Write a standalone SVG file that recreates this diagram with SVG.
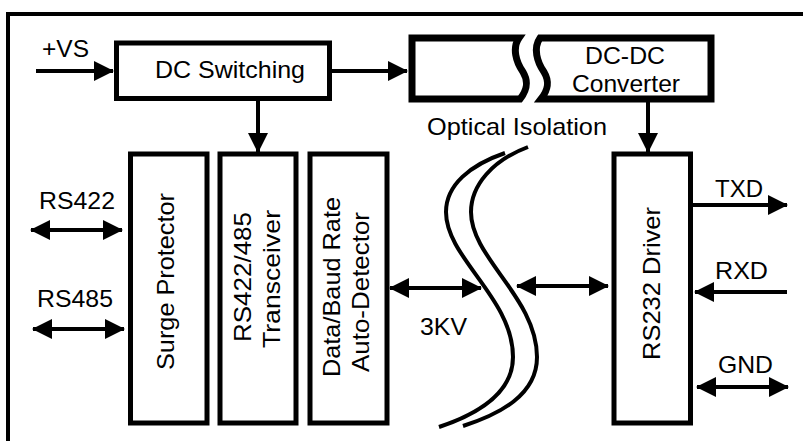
<svg xmlns="http://www.w3.org/2000/svg" width="803" height="441" viewBox="0 0 803 441">
<style>
  text { font-family: "Liberation Sans", Arial, sans-serif; font-size: 24px; fill: #000; }
  .box { fill: #fff; stroke: #000; stroke-width: 5; }
  .opt { fill: #fff; stroke: #000; stroke-width: 7; stroke-linejoin: miter; }
  .wire { fill: none; stroke: #000; stroke-width: 4; }
  .iso { fill: none; stroke: #000; stroke-width: 4; stroke-linecap: butt; }
  .frame { fill: none; stroke: #000; stroke-width: 4; }
</style>
<defs>
  <marker id="ah" viewBox="0 0 20 20" markerUnits="userSpaceOnUse" markerWidth="20" markerHeight="20" refX="19" refY="10" orient="auto-start-reverse">
    <path d="M0,0 L20,10 L0,20 Z" fill="#000"/>
  </marker>
</defs>
<rect width="803" height="441" fill="#fff"/>
<path class="frame" d="M8,445 L8,14 L810,14"/>

<g id="dc-switching">
  <rect class="box" x="116.5" y="43" width="213" height="55.5"/>
  <text x="230" y="78" text-anchor="middle" textLength="150" lengthAdjust="spacingAndGlyphs">DC Switching</text>
</g>
<g id="dc-dc-converter">
  <path class="opt" d="M519,38 L412,38 L412,99 L520,99 C527,90 529,82 523,72 C516,62 512,48 519,38 Z"/>
  <path class="opt" d="M540,38 L711,38 L711,99 L541,99 C548,90 550,82 544,72 C537,62 533,48 540,38 Z"/>
  <text x="625" y="64" text-anchor="middle" textLength="80" lengthAdjust="spacingAndGlyphs">DC-DC</text>
  <text x="626" y="92" text-anchor="middle" textLength="108" lengthAdjust="spacingAndGlyphs">Converter</text>
</g>
<g id="optical-isolation">
  <text x="427" y="135" textLength="180" lengthAdjust="spacingAndGlyphs">Optical Isolation</text>
  <path class="iso" d="M505,153 C470,165 446,185 446,212 C446,258 513,298 513,357 C513,395 475,415 439,427"/>
  <path class="iso" d="M528,147 C493,160 471,185 471,212 C471,258 537,298 537,357 C537,395 500,414 463,426"/>
  <text x="420" y="335" textLength="47" lengthAdjust="spacingAndGlyphs">3KV</text>
</g>
<g id="surge-protector">
  <rect class="box" x="130.5" y="154" width="76.5" height="269"/>
  <text x="174" y="281.5" text-anchor="middle" transform="rotate(-90 174 281.5)" textLength="177" lengthAdjust="spacingAndGlyphs">Surge Protector</text>
</g>
<g id="transceiver">
  <rect class="box" x="220" y="154" width="76" height="269"/>
  <text x="251" y="277" text-anchor="middle" transform="rotate(-90 251 277)" textLength="130" lengthAdjust="spacingAndGlyphs">RS422/485</text>
  <text x="280" y="279" text-anchor="middle" transform="rotate(-90 280 279)" textLength="138" lengthAdjust="spacingAndGlyphs">Transceiver</text>
</g>
<g id="auto-detector">
  <rect class="box" x="310" y="154" width="77" height="269"/>
  <text x="340" y="287" text-anchor="middle" transform="rotate(-90 340 287)" textLength="180" lengthAdjust="spacingAndGlyphs">Data/Baud Rate</text>
  <text x="369" y="292" text-anchor="middle" transform="rotate(-90 369 292)" textLength="160" lengthAdjust="spacingAndGlyphs">Auto-Detector</text>
</g>
<g id="rs232-driver">
  <rect class="box" x="614" y="154" width="76.5" height="269"/>
  <text x="660" y="283.5" text-anchor="middle" transform="rotate(-90 660 283.5)" textLength="153" lengthAdjust="spacingAndGlyphs">RS232 Driver</text>
</g>

<g id="labels">
  <text x="42" y="57" textLength="47" lengthAdjust="spacingAndGlyphs">+VS</text>
  <text x="39" y="209" textLength="76" lengthAdjust="spacingAndGlyphs">RS422</text>
  <text x="37" y="307" textLength="76" lengthAdjust="spacingAndGlyphs">RS485</text>
  <text x="715" y="197" textLength="48" lengthAdjust="spacingAndGlyphs">TXD</text>
  <text x="715" y="279" textLength="53" lengthAdjust="spacingAndGlyphs">RXD</text>
  <text x="718" y="373" textLength="55" lengthAdjust="spacingAndGlyphs">GND</text>
</g>

<g id="connectors">
  <line class="wire" x1="36" y1="71" x2="113" y2="71" marker-end="url(#ah)"/>
  <line class="wire" x1="332" y1="71" x2="407" y2="71" marker-end="url(#ah)"/>
  <line class="wire" x1="258" y1="101" x2="258" y2="152" marker-end="url(#ah)"/>
  <line class="wire" x1="648" y1="102" x2="648" y2="152" marker-end="url(#ah)"/>
  <line class="wire" x1="31" y1="230" x2="122" y2="230" marker-start="url(#ah)" marker-end="url(#ah)"/>
  <line class="wire" x1="33" y1="329" x2="124" y2="329" marker-start="url(#ah)" marker-end="url(#ah)"/>
  <line class="wire" x1="390" y1="288" x2="481" y2="288" marker-start="url(#ah)" marker-end="url(#ah)"/>
  <line class="wire" x1="517" y1="286" x2="608" y2="286" marker-start="url(#ah)" marker-end="url(#ah)"/>
  <line class="wire" x1="692" y1="205" x2="787" y2="205" marker-end="url(#ah)"/>
  <line class="wire" x1="787" y1="292" x2="695" y2="292" marker-end="url(#ah)"/>
  <line class="wire" x1="697" y1="387" x2="788" y2="387" marker-start="url(#ah)" marker-end="url(#ah)"/>
</g>
</svg>
